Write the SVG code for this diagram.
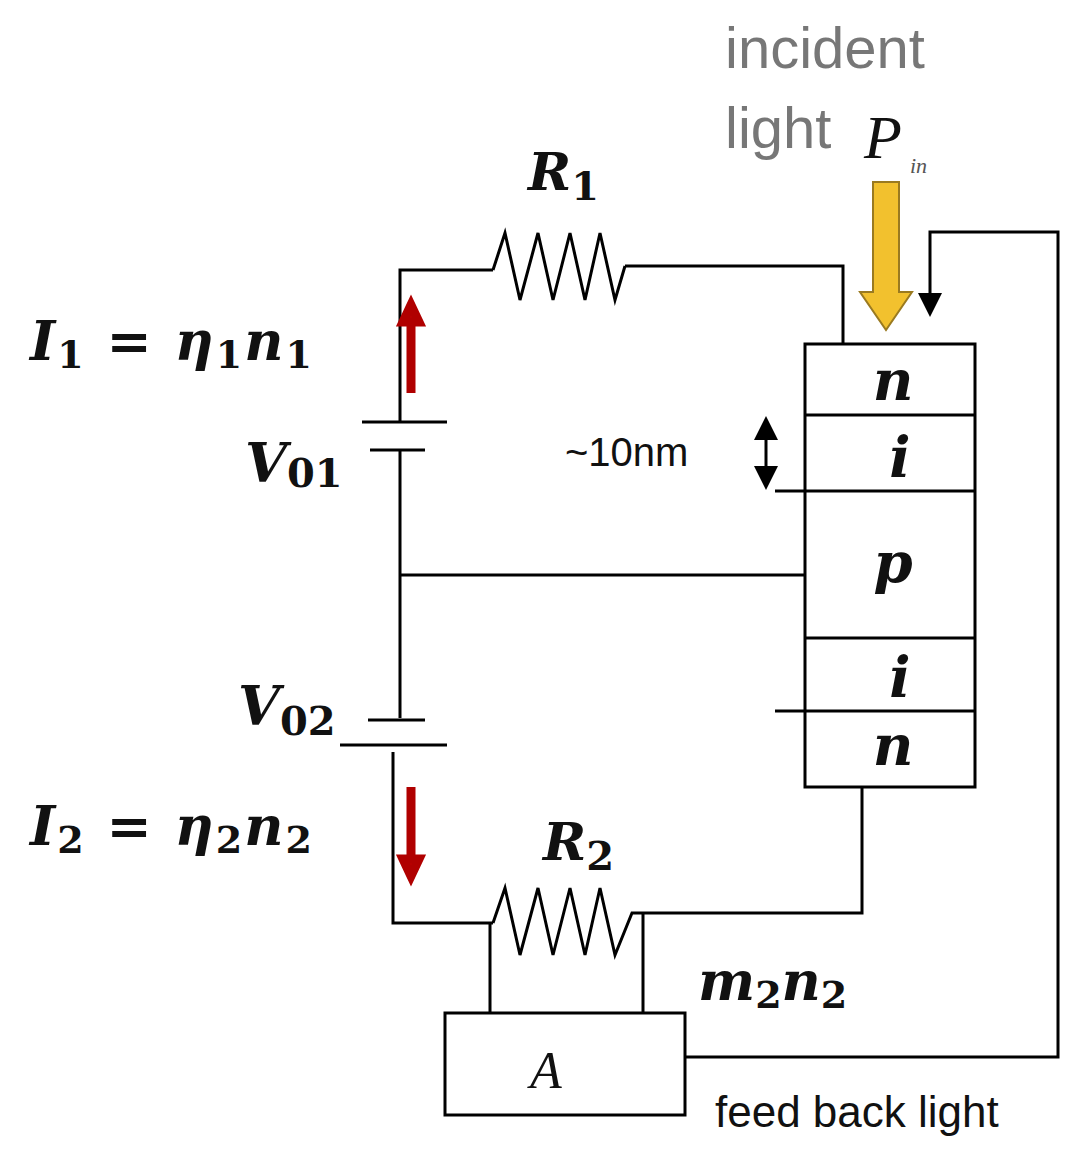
<svg xmlns="http://www.w3.org/2000/svg" width="1083" height="1161" viewBox="0 0 1083 1161">
<style>
.w{fill:none;stroke:#000;stroke-width:3}
.m{font-family:"DejaVu Serif","Liberation Serif",serif;font-weight:bold;font-style:italic;fill:#111}
.b{font-style:normal}
.s{font-family:"Liberation Sans",sans-serif;fill:#111}
</style>
<defs>
<marker id="ah" markerWidth="8" markerHeight="8" refX="4" refY="4" orient="auto-start-reverse" markerUnits="strokeWidth"><path d="M0,0 L8,4 L0,8 z" fill="#000"/></marker>
</defs>
<rect width="1083" height="1161" fill="#fff"/>
<g id="connectors">
<path class="w" d="M400,422 V270 H493 M625,266 H843 V344"/>
<polyline class="w" points="493,270 505,233 520,300 538,233 553,300 570,233 585,300 600,233 615,300 625,266"/>
<path class="w" d="M400,450 V718 M400,575 H805"/>
<path class="w" d="M393,752 V923 H493 M645,913 H862 V787"/>
<polyline class="w" points="493,923 505,888 520,955 538,888 553,955 570,888 585,955 600,888 615,955 632,913 645,913"/>
<path class="w" d="M490,923 V1013 M643,913 V1013"/>
<path class="w" d="M685,1057 H1058 V232 H930 V305" marker-end="url(#ah)"/>
<path class="w" d="M766,428 V478" marker-start="url(#ah)" marker-end="url(#ah)"/>
</g>
<g id="V01"><path class="w" d="M362,422 H447 M370,450 H425"/>
<text class="m" x="245" y="482" font-size="54">V<tspan class="b" font-size="40" dy="5">01</tspan></text></g>
<g id="V02"><path class="w" d="M368,720 H425 M340,745 H447"/>
<text class="m" x="238" y="725" font-size="54">V<tspan class="b" font-size="40" dy="10">02</tspan></text></g>
<g id="R1"><text class="m" x="528" y="190" font-size="52">R<tspan class="b" font-size="40" dy="10">1</tspan></text></g>
<g id="R2"><text class="m" x="543" y="860" font-size="52">R<tspan class="b" font-size="40" dy="10">2</tspan></text></g>
<g id="I1"><text class="m" x="30" y="360" font-size="54" letter-spacing="2">I<tspan class="b" font-size="38" dy="8">1</tspan><tspan dy="-8"> = η</tspan><tspan class="b" font-size="38" dy="8">1</tspan><tspan dy="-8">n</tspan><tspan class="b" font-size="38" dy="8">1</tspan></text>
<path d="M411,393 V318 M411,305 L403,322 H419 Z" stroke="#b00000" stroke-width="9" fill="#c00000"/></g>
<g id="I2"><text class="m" x="30" y="845" font-size="54" letter-spacing="2">I<tspan class="b" font-size="38" dy="8">2</tspan><tspan dy="-8"> = η</tspan><tspan class="b" font-size="38" dy="8">2</tspan><tspan dy="-8">n</tspan><tspan class="b" font-size="38" dy="8">2</tspan></text>
<path d="M411,787 V862 M411,876 L403,859 H419 Z" stroke="#b00000" stroke-width="9" fill="#c00000"/></g>
<g id="device">
<rect class="w" x="805" y="344" width="170" height="443"/>
<path class="w" d="M805,415 H975 M775,491 H975 M805,638 H975 M775,711 H975"/>
<text class="m" font-size="56" text-anchor="middle" x="893" y="400">n</text>
<text class="m" font-size="56" text-anchor="middle" x="900" y="477">i</text>
<text class="m" font-size="56" text-anchor="middle" x="893" y="582">p</text>
<text class="m" font-size="56" text-anchor="middle" x="900" y="697">i</text>
<text class="m" font-size="56" text-anchor="middle" x="893" y="765">n</text>
<text class="s" x="565" y="466" font-size="40">~10nm</text>
</g>
<g id="light">
<text class="s" x="725" y="68" font-size="58" style="fill:#777">incident</text>
<text class="s" x="725" y="148" font-size="58" style="fill:#777">light</text>
<text font-family="Liberation Serif,serif" font-style="italic" x="864" y="158" font-size="62" fill="#111">P</text>
<text font-family="Liberation Serif,serif" font-style="italic" x="910" y="173" font-size="22" fill="#555">in</text>
<path d="M873,182 H899 V292 H912 L886,330 L860,292 H873 Z" fill="#f2c12e" stroke="#9a7a20" stroke-width="2"/>
</g>
<g id="A"><rect class="w" x="445" y="1013" width="240" height="102"/>
<text font-family="Liberation Serif,serif" font-style="italic" x="530" y="1088" font-size="52" fill="#111">A</text></g>
<g id="labels">
<text class="m" x="698" y="1000" font-size="54">m<tspan class="b" font-size="38" dy="8">2</tspan><tspan dy="-8">n</tspan><tspan class="b" font-size="38" dy="8">2</tspan></text>
<text class="s" x="715" y="1127" font-size="44">feed back light</text>
</g>
</svg>
